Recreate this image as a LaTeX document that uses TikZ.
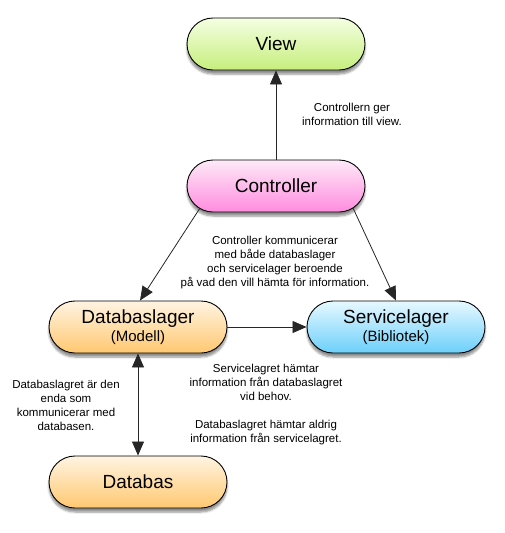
\documentclass[tikz,border=0pt]{standalone}
\usepackage{fontspec}
\setmainfont{Liberation Sans}
\usetikzlibrary{arrows.meta,shadows.blur}
\definecolor{viewtop}{HTML}{F4FFE2}
\definecolor{viewbot}{HTML}{C6EE7C}
\definecolor{ctrltop}{HTML}{FDEAF8}
\definecolor{ctrlbot}{HTML}{FF8CDF}
\definecolor{dbtop}{HTML}{FFF4E2}
\definecolor{dbbot}{HTML}{FFC870}
\definecolor{srvtop}{HTML}{E6F9FF}
\definecolor{srvbot}{HTML}{6CCFFA}
\tikzset{
  layer/.style={draw=black, line width=0.9pt, rounded corners=26pt,
    minimum width=178pt, minimum height=52pt, inner sep=0pt, align=center,
    blur shadow={shadow xshift=0pt, shadow yshift=-4pt, shadow blur steps=6, shadow opacity=45},
    font=\fontsize{19}{19}\selectfont},
  note/.style={align=center, font=\fontsize{11.5}{14}\selectfont, inner sep=0pt},
  conn/.style={draw=black!85, line width=0.8pt, -{Triangle[length=14pt,width=12pt]}},
  sub/.style={font=\fontsize{15}{15}\selectfont}
}
\begin{document}
\begin{tikzpicture}[x=1pt,y=1pt]
\useasboundingbox (0,0) rectangle (504,-533);
\node[layer, top color=viewtop, bottom color=viewbot] (view) at (276,-44) {View};
\node[layer, top color=ctrltop, bottom color=ctrlbot] (ctrl) at (276,-186) {Controller};
\node[layer, top color=dbtop, bottom color=dbbot] (dbl) at (138,-327)
  {\fontsize{19}{20}\selectfont Databaslager\\[-1pt]{\fontsize{15}{15}\selectfont (Modell)}};
\node[layer, top color=srvtop, bottom color=srvbot] (srv) at (396,-327)
  {\fontsize{19}{20}\selectfont Servicelager\\[-1pt]{\fontsize{15}{15}\selectfont (Bibliotek)}};
\node[layer, top color=dbtop, bottom color=dbbot] (db) at (138,-482) {Databas};

\coordinate (cl) at (200,-208);
\coordinate (cr) at (353,-208);

\draw[conn] (ctrl.north) -- (view.south);
\draw[conn] (cl) -- ([xshift=2pt]dbl.north);
\draw[conn] (cr) -- (srv.north);
\draw[conn] (dbl.east) -- (srv.west);
\draw[conn, {Triangle[length=14pt,width=12pt]}-{Triangle[length=14pt,width=12pt]}] (dbl.south) -- (db.north);

\node[note] (n1) at (352,-114) {Controllern ger\\information till view.};
\node[note] (n2) at (275,-263) {Controller kommunicerar\\med både databaslager\\och servicelager beroende\\på vad den vill hämta för information.};
\node[note] (n3) at (66,-405) {Databaslagret är den\\enda som\\kommunicerar med\\databasen.};
\node[note] (n4) at (266,-405) {Servicelagret hämtar\\information från databaslagret\\vid behov.\\[14pt]Databaslagret hämtar aldrig\\information från servicelagret.};
\end{tikzpicture}
\end{document}
